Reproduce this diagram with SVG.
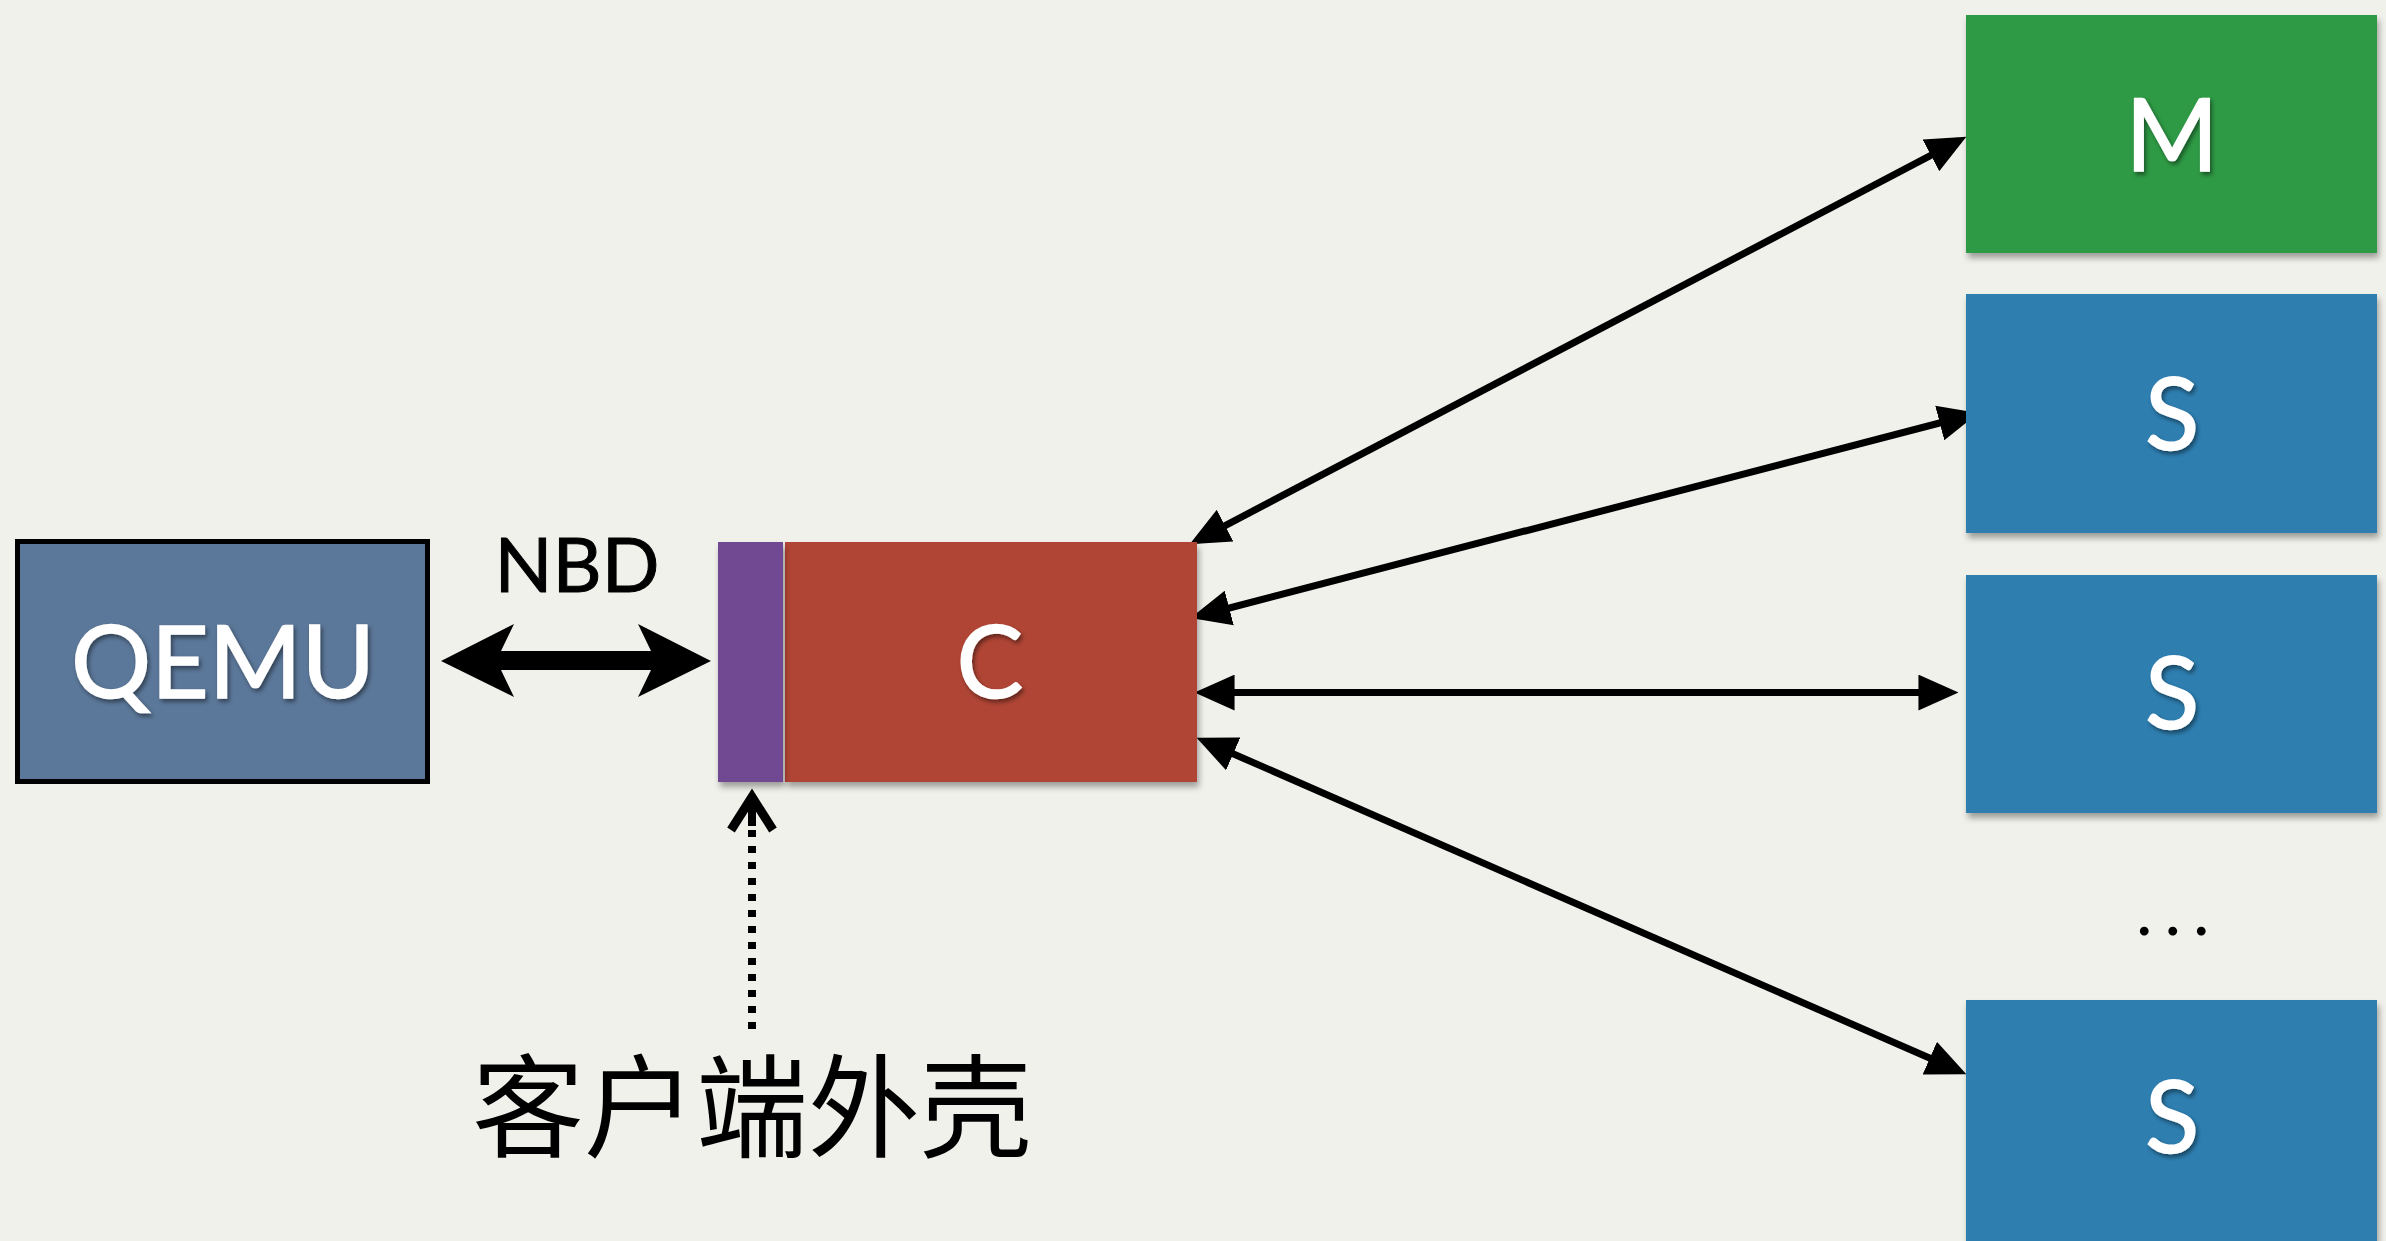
<svg xmlns="http://www.w3.org/2000/svg" width="2386" height="1241" viewBox="0 0 2386 1241">
  <style>
    .lbl { font-family: Lato, "Open Sans", "Liberation Sans", sans-serif; fill: #ffffff; stroke: #ffffff; stroke-width: 1.5px; font-size: 100px; text-anchor: middle; }
    .blk { font-family: Lato, "Open Sans", "Liberation Sans", sans-serif; fill: #000000; }
    .cjk { font-family: "Noto Sans CJK SC", "Noto Sans", sans-serif; fill: #000000; font-size: 112px; font-weight: 400; }
    .conn { stroke: #000000; stroke-width: 7; fill: none; marker-start: url(#ah); marker-end: url(#ah); }
  </style>
  <defs>
    <filter id="boxshadow" x="-5%" y="-5%" width="115%" height="120%">
      <feDropShadow dx="2" dy="5" stdDeviation="3" flood-color="#000" flood-opacity="0.35"/>
    </filter>
    <filter id="txtshadow" x="-10%" y="-10%" width="130%" height="130%">
      <feDropShadow dx="2" dy="3" stdDeviation="2" flood-color="#000" flood-opacity="0.45"/>
    </filter>
    <marker id="ah" markerUnits="userSpaceOnUse" markerWidth="40" markerHeight="36" viewBox="0 0 38 34" refX="30" refY="17" orient="auto-start-reverse">
      <path d="M0,0 L38,17 L0,34 z" fill="#000"/>
    </marker>
  </defs>
  <rect x="0" y="0" width="2386" height="1241" fill="#f1f1ec"/>

  <g id="connectors">
    <path id="nbd-arrow" d="M441,661 L514,624 L501,651 L651,651 L638,624 L711,661 L638,697 L651,670 L501,670 L514,697 Z" fill="#000"/>
    <rect x="500" y="651" width="152" height="19" fill="#000"/>
    <g id="shell-pointer" stroke="#000" fill="none">
      <polyline points="731,830 752,797 773,830" stroke-width="9" stroke-linejoin="miter"/>
      <line x1="752" y1="797" x2="752" y2="826" stroke-width="8"/>
      <line x1="752" y1="830" x2="752" y2="1030" stroke-width="8" stroke-dasharray="7 9"/>
    </g>
    <line class="conn" x1="1197.1" y1="540.3" x2="1958.9" y2="140.7"/>
    <line class="conn" x1="1198.7" y1="616.0" x2="1970.3" y2="415.0"/>
    <line class="conn" x1="1203" y1="692.5" x2="1950" y2="692.5"/>
    <line class="conn" x1="1204.3" y1="741.2" x2="1958.7" y2="1070.8"/>
  </g>

  <g id="qemu">
    <rect x="17.5" y="541.5" width="410" height="240" fill="#5b7799" stroke="#000" stroke-width="5"/>
    <text class="lbl" x="223" y="698" filter="url(#txtshadow)">QEMU</text>
  </g>

  <text id="nbd-label" class="blk" x="577" y="592" font-size="76" text-anchor="middle" stroke="#000" stroke-width="1">NBD</text>

  <g id="client">
    <rect x="785" y="542" width="412" height="240" fill="#b04435" filter="url(#boxshadow)"/>
    <text class="lbl" x="990" y="698" filter="url(#txtshadow)">C</text>
  </g>
  <g id="shell">
    <rect x="718" y="542" width="65" height="240" fill="#714a93" filter="url(#boxshadow)"/>
  </g>

  <text id="shell-label" class="cjk" x="472" y="1149">客户端外壳</text>

  <g id="master">
    <rect x="1966" y="15" width="411" height="238" fill="#2f9a45" filter="url(#boxshadow)"/>
    <text class="lbl" x="2172" y="171" filter="url(#txtshadow)">M</text>
  </g>
  <g id="slave1">
    <rect x="1966" y="294" width="411" height="239" fill="#2e7eb0" filter="url(#boxshadow)"/>
    <text class="lbl" x="2172" y="450" filter="url(#txtshadow)">S</text>
  </g>
  <g id="slave2">
    <rect x="1966" y="575" width="411" height="238" fill="#2e7eb0" filter="url(#boxshadow)"/>
    <text class="lbl" x="2172" y="729" filter="url(#txtshadow)">S</text>
  </g>
  <text id="ellipsis" class="blk" x="2136" y="935" font-size="70" letter-spacing="12">...</text>
  <g id="slave3">
    <rect x="1966" y="1000" width="411" height="260" fill="#2e7eb0" filter="url(#boxshadow)"/>
    <text class="lbl" x="2172" y="1153" filter="url(#txtshadow)">S</text>
  </g>
</svg>
